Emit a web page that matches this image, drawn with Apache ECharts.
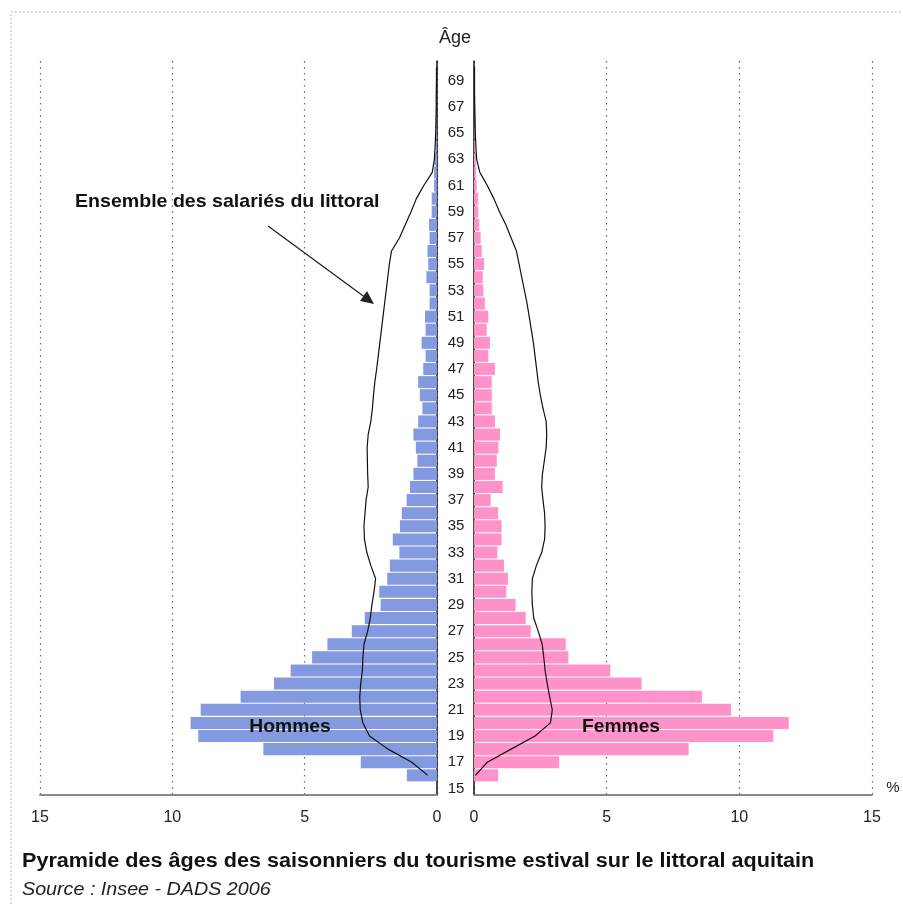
<!DOCTYPE html>
<html><head><meta charset="utf-8">
<script src="https://cdn.jsdelivr.net/npm/echarts@6/dist/echarts.min.js"></script>
<style>html,body{margin:0;padding:0;background:#fff}#c{width:903px;height:906px}</style>
</head><body><div id="c"></div>
<script>
const ages = ['15','16','17','18','19','20','21','22','23','24','25','26','27','28','29','30','31','32','33','34','35','36','37','38','39','40','41','42','43','44','45','46','47','48','49','50','51','52','53','54','55','56','57','58','59','60','61','62','63','64','65','66','67','68','69','70'];
const hommes = [0,1.14,2.88,6.56,9.02,9.31,8.93,7.42,6.16,5.53,4.72,4.14,3.22,2.73,2.13,2.18,1.88,1.78,1.42,1.67,1.40,1.33,1.15,1.02,0.89,0.74,0.80,0.89,0.71,0.55,0.65,0.71,0.52,0.43,0.58,0.43,0.45,0.28,0.28,0.40,0.33,0.36,0.28,0.30,0.20,0.20,0.11,0.11,0.10,0.05,0.05,0.02,0.02,0.01,0.01,0];
const femmes = [0,0.91,3.21,8.09,11.28,11.86,9.69,8.59,6.32,5.14,3.56,3.46,2.14,1.95,1.57,1.22,1.28,1.13,0.88,1.04,1.04,0.91,0.63,1.08,0.79,0.86,0.92,0.98,0.79,0.67,0.67,0.67,0.79,0.54,0.60,0.48,0.54,0.41,0.35,0.33,0.38,0.29,0.25,0.20,0.16,0.16,0.10,0.08,0.08,0.03,0.02,0,0,0,0,0];
const ensembleHommes = [null,0.35,0.95,1.85,2.55,2.8,2.9,2.92,2.88,2.82,2.8,2.76,2.62,2.52,2.46,2.38,2.32,2.5,2.65,2.74,2.76,2.72,2.68,2.6,2.62,2.63,2.64,2.6,2.5,2.44,2.4,2.35,2.28,2.22,2.16,2.1,2.04,1.98,1.92,1.86,1.8,1.72,1.42,1.2,0.98,0.78,0.5,0.18,0.1,0.07,0.05,0.04,0.03,0.03,0.02,0.02];
const ensembleFemmes = [null,0.05,0.5,1.4,2.3,2.88,2.95,2.85,2.76,2.68,2.63,2.57,2.42,2.25,2.2,2.18,2.2,2.35,2.55,2.66,2.68,2.66,2.6,2.55,2.58,2.65,2.72,2.74,2.72,2.6,2.5,2.42,2.36,2.3,2.24,2.16,2.08,2.0,1.9,1.8,1.7,1.6,1.4,1.2,0.96,0.75,0.5,0.22,0.1,0.07,0.05,0.04,0.03,0.02,0.02,0.02];
const xTicks = [0,5,10,15];

const FONT = '"Liberation Sans", Arial, sans-serif';
const chart = echarts.init(document.getElementById('c'), null, {renderer:'canvas'});
const xAxisCommon = {
  type:'value', min:0, max:15, interval:5,
  axisLine:{show:true, lineStyle:{color:'#8a8a8a', width:2}},
  axisTick:{show:false},
  axisLabel:{fontFamily:FONT, fontSize:16, color:'#222', margin:15,
    formatter: v => xTicks.indexOf(v) >= 0 ? String(v) : ''},
  splitLine:{show:true, lineStyle:{color:'#666', type:[1.5,4.5], width:1.2}}
};
const yAxisCommon = {
  type:'category', data:ages, boundaryGap:true,
  axisTick:{show:false},
  splitLine:{show:false},
  axisLine:{show:true, lineStyle:{color:'#111', width:1.5}}
};
function txt(s, x, y, size, opts){
  opts = opts || {};
  return {type:'text', x:x, y:y, scaleX:opts.sx||1, scaleY:1, z:opts.z||10,
    style:{text:s, x:0, y:0, fontFamily:FONT, fontSize:size, fontWeight:opts.bold?'bold':'normal',
      fontStyle:opts.italic?'italic':'normal', fill:opts.color||'#111', textAlign:opts.align||'left', textVerticalAlign:'middle'}};
}
chart.setOption({
  animation:false,
  backgroundColor:'#fff',
  grid:[
    {left:40, top:61, width:397, height:734},
    {left:474, top:61, width:398, height:734}
  ],
  xAxis:[
    Object.assign({gridIndex:0, inverse:true}, xAxisCommon),
    Object.assign({gridIndex:1}, xAxisCommon)
  ],
  yAxis:[
    Object.assign({gridIndex:0, position:'right', axisLabel:{show:false}}, yAxisCommon),
    Object.assign({gridIndex:1, position:'left',
      axisLabel:{show:true, interval:1, align:'center', margin:18, fontFamily:FONT, fontSize:15, color:'#222'}}, yAxisCommon)
  ],
  series:[
    {name:'Hommes', type:'bar', xAxisIndex:0, yAxisIndex:0, data:hommes, barCategoryGap:'8%',
      itemStyle:{color:'#8399E0'}},
    {name:'Femmes', type:'bar', xAxisIndex:1, yAxisIndex:1, data:femmes, barCategoryGap:'8%',
      itemStyle:{color:'#FF93C9'}},
    {name:'Ensemble hommes', type:'line', xAxisIndex:0, yAxisIndex:0, data:ensembleHommes,
      showSymbol:false, lineStyle:{color:'#111', width:1.2}, z:5},
    {name:'Ensemble femmes', type:'line', xAxisIndex:1, yAxisIndex:1, data:ensembleFemmes,
      showSymbol:false, lineStyle:{color:'#111', width:1.2}, z:5}
  ],
  graphic:[
    {type:'rect', shape:{x:11, y:12, width:900, height:910}, style:{fill:null, stroke:'#aaa', lineWidth:1, lineDash:[1.5,2.5]}, z:-1},
    txt('Âge', 455, 38, 18, {align:'center', color:'#222'}),
    txt('%', 893, 788, 15, {align:'center', color:'#222'}),
    txt('Hommes', 290, 727, 18, {bold:true, align:'center', sx:1.07}),
    txt('Femmes', 621, 727, 18, {bold:true, align:'center', sx:1.07}),
    txt('Ensemble des salariés du littoral', 75, 202, 19, {bold:true, sx:1.03}),
    {type:'line', shape:{x1:268, y1:226, x2:366, y2:298}, style:{stroke:'#222', lineWidth:1.3}},
    {type:'polygon', shape:{points:[[374,304],[360,301],[367,291]]}, style:{fill:'#222'}},
    txt('Pyramide des âges des saisonniers du tourisme estival sur le littoral aquitain', 22, 861, 20, {bold:true, sx:1.08}),
    txt('Source : Insee - DADS 2006', 22, 890, 18.5, {italic:true, color:'#222', sx:1.065})
  ]
});
</script></body></html>
